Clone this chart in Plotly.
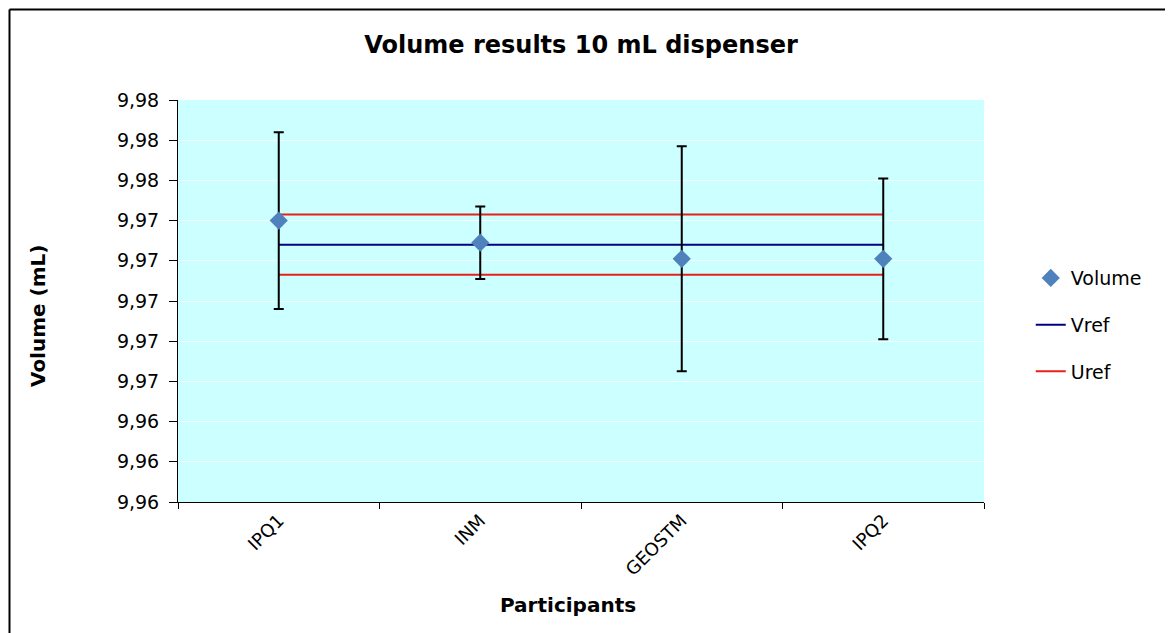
import plotly.graph_objects as go

participants = ["IPQ1", "INM", "GEOSTM", "IPQ2"]
volume = [9.9740, 9.9729, 9.9721, 9.9721]
volume_err = [0.0044, 0.0018, 0.0056, 0.0040]
vref = [9.9728, 9.9728, 9.9728, 9.9728]
uref_upper = [9.9743, 9.9743, 9.9743, 9.9743]
uref_lower = [9.9713, 9.9713, 9.9713, 9.9713]

y_tickvals = [9.960, 9.962, 9.964, 9.966, 9.968, 9.970, 9.972, 9.974, 9.976, 9.978, 9.980]
y_ticktext = ["9,96", "9,96", "9,96", "9,97", "9,97", "9,97", "9,97", "9,97", "9,98", "9,98", "9,98"]

FONT = "DejaVu Sans"

fig = go.Figure()

fig.add_trace(go.Scatter(
    x=participants, y=vref, mode="lines", name="Vref",
    line=dict(color="#000080", width=2), legendgroup="v", legendrank=2,
))
fig.add_trace(go.Scatter(
    x=participants, y=uref_upper, mode="lines", name="Uref",
    line=dict(color="#E8201A", width=2), legendgroup="u", legendrank=3,
))
fig.add_trace(go.Scatter(
    x=participants, y=uref_lower, mode="lines", name="Uref",
    line=dict(color="#E8201A", width=2), legendgroup="u", showlegend=False,
))
fig.add_trace(go.Scatter(
    x=participants, y=volume, mode="markers", name="Volume",
    marker=dict(symbol="diamond", color="#4F81BD", size=14),
    error_y=dict(type="data", array=volume_err, visible=True,
                 color="black", thickness=2, width=5),
    legendgroup="vol", legendrank=1,
))

fig.update_layout(
    width=1165, height=625,
    margin=dict(l=170, r=189, t=92, b=131),
    paper_bgcolor="white",
    plot_bgcolor="#CCFFFF",
    font=dict(family=FONT, size=16, color="black"),
    title=dict(text="<b>Volume results 10 mL dispenser</b>", x=(581 - 8) / 1165, xanchor="center",
               y=1 - 37 / 625, yanchor="middle", font=dict(size=24, family=FONT)),
    showlegend=True,
    legend=dict(x=1.058, y=0.44, xanchor="left", yanchor="middle",
                bgcolor="rgba(0,0,0,0)", font=dict(size=19, family=FONT),
                traceorder="grouped", tracegroupgap=19, itemwidth=30),
    xaxis=dict(
        type="category", range=[-0.5, 3.5],
        showline=True, linecolor="black", linewidth=1,
        ticks="outside", ticklen=6, tickcolor="black", tickson="boundaries",
        tickangle=-45, showgrid=False,
        tickfont=dict(size=18, family=FONT),
    ),
    yaxis=dict(
        range=[9.960, 9.980],
        tickvals=y_tickvals, ticktext=y_ticktext,
        showline=True, linecolor="black", linewidth=1,
        ticks="outside", ticklen=8, tickcolor="black", ticklabelstandoff=6,
        showgrid=True, gridcolor="rgba(255,255,255,0.75)", gridwidth=1,
        zeroline=False,
        tickfont=dict(size=19, family=FONT),
    ),
    annotations=[
        dict(text="<b>Volume (mL)</b>", xref="paper", yref="paper",
             x=(38 - 178) / 806, y=(502 - 316) / 402, textangle=-90,
             xanchor="center", yanchor="middle", showarrow=False,
             font=dict(size=20, family=FONT)),
        dict(text="<b>Participants</b>", xref="paper", yref="paper",
             x=(568 - 178) / 806, y=(502 - 605) / 402,
             xanchor="center", yanchor="middle", showarrow=False,
             font=dict(size=20, family=FONT)),
    ],
)

# outer frame of the chart area (left and top edges)
fig.add_shape(type="line", xref="paper", yref="paper",
              x0=(9.5 - 178) / 806, x1=(9.5 - 178) / 806,
              y0=(502 - 9.5) / 402, y1=(502 - 640) / 402,
              line=dict(color="black", width=2))
fig.add_shape(type="line", xref="paper", yref="paper",
              x0=(9.5 - 178) / 806, x1=(1180 - 178) / 806,
              y0=(502 - 9.5) / 402, y1=(502 - 9.5) / 402,
              line=dict(color="black", width=2))

fig.write_html("out.html")
